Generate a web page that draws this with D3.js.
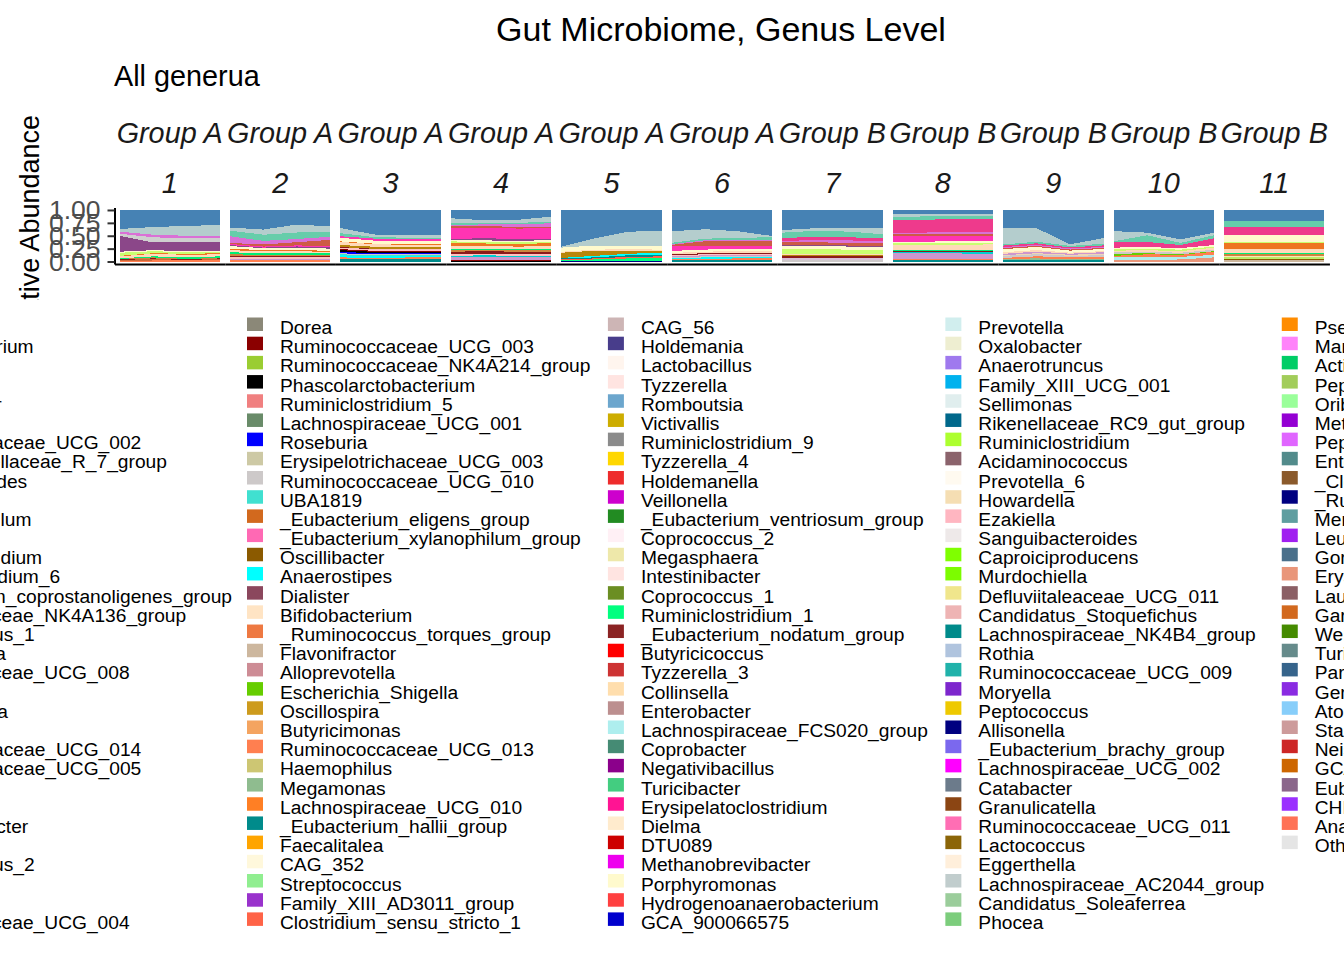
<!DOCTYPE html>
<html>
<head>
<meta charset="utf-8">
<script src="https://cdn.jsdelivr.net/npm/d3@7"></script>
<style>
  body { margin: 0; background: #fff; }
  svg { display: block; font-family: "Liberation Sans", Arial, sans-serif; }
</style>
</head>
<body>
<div id="chart"></div>
<script>
// genus levels, in legend order (first level is stacked on top)
const genera = [
  "Bacteroides", "Faecalibacterium", "Blautia", "Alistipes", "Agathobacter", "Sutterella",
  "Ruminococcaceae_UCG_002", "Christensenellaceae_R_7_group", "Parabacteroides", "Bilophila",
  "Subdoligranulum", "Akkermansia", "Lachnoclostridium", "Ruminiclostridium_6",
  "_Eubacterium_coprostanoligenes_group", "Lachnospiraceae_NK4A136_group", "Ruminococcus_1",
  "Parasutterella", "Lachnospiraceae_UCG_008", "Odoribacter", "Eisenbergiella", "Barnesiella",
  "Ruminococcaceae_UCG_014", "Ruminococcaceae_UCG_005", "Olsenella", "Tannerella",
  "Fusicatenibacter", "Mitsuokella", "Ruminococcus_2", "Monoglobus", "Slackia",
  "Lachnospiraceae_UCG_004",

  "Dorea", "Ruminococcaceae_UCG_003", "Ruminococcaceae_NK4A214_group", "Phascolarctobacterium",
  "Ruminiclostridium_5", "Lachnospiraceae_UCG_001", "Roseburia", "Erysipelotrichaceae_UCG_003",
  "Ruminococcaceae_UCG_010", "UBA1819", "_Eubacterium_eligens_group", "_Eubacterium_xylanophilum_group",
  "Oscillibacter", "Anaerostipes", "Dialister", "Bifidobacterium", "_Ruminococcus_torques_group",
  "Flavonifractor", "Alloprevotella", "Escherichia_Shigella", "Oscillospira", "Butyricimonas",
  "Ruminococcaceae_UCG_013", "Haemophilus", "Megamonas", "Lachnospiraceae_UCG_010",
  "_Eubacterium_hallii_group", "Faecalitalea", "CAG_352", "Streptococcus",
  "Family_XIII_AD3011_group", "Clostridium_sensu_stricto_1",

  "CAG_56", "Holdemania", "Lactobacillus", "Tyzzerella", "Romboutsia", "Victivallis",
  "Ruminiclostridium_9", "Tyzzerella_4", "Holdemanella", "Veillonella",
  "_Eubacterium_ventriosum_group", "Coprococcus_2", "Megasphaera", "Intestinibacter",
  "Coprococcus_1", "Ruminiclostridium_1", "_Eubacterium_nodatum_group", "Butyricicoccus",
  "Tyzzerella_3", "Collinsella", "Enterobacter", "Lachnospiraceae_FCS020_group", "Coprobacter",
  "Negativibacillus", "Turicibacter", "Erysipelatoclostridium", "Dielma", "DTU089",
  "Methanobrevibacter", "Porphyromonas", "Hydrogenoanaerobacterium", "GCA_900066575",

  "Prevotella", "Oxalobacter", "Anaerotruncus", "Family_XIII_UCG_001", "Sellimonas",
  "Rikenellaceae_RC9_gut_group", "Ruminiclostridium", "Acidaminococcus", "Prevotella_6",
  "Howardella", "Ezakiella", "Sanguibacteroides", "Caproiciproducens", "Murdochiella",
  "Defluviitaleaceae_UCG_011", "Candidatus_Stoquefichus", "Lachnospiraceae_NK4B4_group",
  "Rothia", "Ruminococcaceae_UCG_009", "Moryella", "Peptococcus", "Allisonella",
  "_Eubacterium_brachy_group", "Lachnospiraceae_UCG_002", "Catabacter", "Granulicatella",
  "Ruminococcaceae_UCG_011", "Lactococcus", "Eggerthella", "Lachnospiraceae_AC2044_group",
  "Candidatus_Soleaferrea", "Phocea",

  "Pseudobutyrivibrio", "Marvinbryantia", "Actinomyces", "Peptostreptococcus", "Oribacterium",
  "Methanosphaera", "Peptoniphilus", "Enterorhabdus", "_Clostridium_innocuum_group",
  "_Ruminococcus_gauvreauii_group", "Merdibacter", "Leuconostoc", "Gordonibacter",
  "Erysipelotrichaceae_UCG_004", "Lautropia", "Gardnerella", "Weissella", "Turicimonas",
  "Parvimonas", "Gemella", "Atopobium", "Staphylococcus", "Neisseria", "GCA_900066225",
  "Eubacterium", "CHKCI001", "Anaerofilum", "Others"
];

const generaColors = [
  "#4682B4", "#B4CDCD", "#66CDAA", "#EE3A8C", "#DA70D6", "#CD5B45", "#FF34B3", "#CFCFCF",
  "#8B4789", "#FFFACD", "#CAFF70", "#EE7621", "#FFDAB9", "#B8860B", "#00EE76", "#CD853F",
  "#8B1A1A", "#FFC1C1", "#00CED1", "#9370DB", "#FFE4B5", "#CD96CD", "#EEA9B8", "#BCEE68",
  "#D8BFD8", "#EED5B7", "#CD6839", "#00C5CD", "#FFEC8B", "#A2B5CD", "#CD3278", "#8DB6CD",

  "#8B8878", "#8B0000", "#9ACD32", "#000000", "#F08080", "#698B69", "#0000FF", "#CDC9A5",
  "#CDC9C9", "#40E0D0", "#D2691E", "#FF69B4", "#8B5A00", "#00FFFF", "#8B475D", "#FFE4C4",
  "#EE7942", "#CDB79E", "#CD8C95", "#66CD00", "#CD9B1D", "#F4A460", "#FF7F50", "#CDC673",
  "#8FBC8F", "#FF7F24", "#008B8B", "#FFA500", "#FFF8DC", "#90EE90", "#9932CC", "#FF6347",

  "#CDB5B5", "#483D8B", "#FFF5EE", "#FFE4E1", "#6CA6CD", "#CDAD00", "#8B8B8B", "#FFD700",
  "#EE2C2C", "#CD00CD", "#228B22", "#FFF0F5", "#EEE8AA", "#FFE4E1", "#6B8E23", "#00FF7F",
  "#8B2323", "#FF0000", "#CD3333", "#FFDEAD", "#BC8F8F", "#AEEEEE", "#458B74", "#8B008B",
  "#43CD80", "#FF1493", "#FFEBCD", "#CD0000", "#EE00EE", "#FFFACD", "#FF4040", "#0000CD",

  "#D1EEEE", "#EEEED1", "#9F79EE", "#00B2EE", "#E0EEEE", "#00688B", "#ADFF2F", "#8B636C",
  "#FFFAF0", "#F5DEB3", "#FFB6C1", "#EEE9E9", "#7FFF00", "#7CFC00", "#F0E68C", "#EEB4B4",
  "#008B8B", "#B0C4DE", "#20B2AA", "#7D26CD", "#EEC900", "#000080", "#7B68EE", "#FF00FF",
  "#6C7B8B", "#8B4513", "#FF6EB4", "#8B6508", "#FFEFDB", "#C1CDCD", "#9BCD9B", "#7CCD7C",

  "#FF8C00", "#FF83FA", "#00CD66", "#A2CD5A", "#9AFF9A", "#9400D3", "#E066FF", "#528B8B",
  "#8B5A2B", "#000080", "#5F9EA0", "#A020F0", "#4A708B", "#E9967A", "#8B5F65", "#D2691E",
  "#458B00", "#668B8B", "#36648B", "#8A2BE2", "#87CEFA", "#CD9B9B", "#CD2626", "#CD6600",
  "#8B668B", "#9B30FF", "#FF7256", "#E5E5E5"
];

const panelGroups = ["Group A", "Group A", "Group A", "Group A", "Group A", "Group A",
                     "Group B", "Group B", "Group B", "Group B", "Group B"];
const panelIds = ["1", "2", "3", "4", "5", "6", "7", "8", "9", "10", "11"];
const timepoints = [1, 2, 3, 4];
const yTicks = [0, 0.25, 0.5, 0.75, 1];
const yTickLabels = ["0.00", "0.25", "0.50", "0.75", "1.00"];

// relative abundance per panel: [genus, t1, t2, t3, t4]
const panel1 = [
  ["Bacteroides", .37, .33, .31, .29],
  ["Faecalibacterium", .05, .15, .19, .21],
  ["Agathobacter", .04, .05, .05, .05],
  ["Christensenellaceae_R_7_group", .04, .10, .07, .07],
  ["Parabacteroides", .31, .15, .18, .18],
  ["Bilophila", .02, .02, .02, .02],
  ["Subdoligranulum", .06, .04, .03, .02],
  ["Akkermansia", .01, .01, .02, .02],
  ["Lachnoclostridium", .04, .05, .05, .04],
  ["_Eubacterium_coprostanoligenes_group", .01, .02, .03, .03],
  ["Lachnospiraceae_NK4A136_group", .01, .02, .01, .01],
  ["Ruminococcus_1", .01, .01, .01, .01],
  ["Fusicatenibacter", .02, .03, .01, .02],
  ["Ruminococcaceae_UCG_013", .01, .02, .02, .03]
];
const panel2 = [
  ["Bacteroides", .34, .38, .27, .32],
  ["Faecalibacterium", .06, .10, .15, .10],
  ["Blautia", .11, .12, .12, .10],
  ["Agathobacter", .13, .07, .06, .06],
  ["Sutterella", .02, .04, .06, .12],
  ["Ruminococcaceae_UCG_002", .02, .02, .02, .02],
  ["Parabacteroides", .02, .01, .02, .03],
  ["Bilophila", .05, .04, .05, .04],
  ["Akkermansia", .03, .02, .02, .02],
  ["Lachnoclostridium", .04, .04, .04, .03],
  ["_Eubacterium_coprostanoligenes_group", .04, .03, .02, .03],
  ["Lachnospiraceae_NK4A136_group", .03, .03, .03, .03],
  ["Ruminococcus_1", .02, .02, .02, .02],
  ["Parasutterella", .04, .03, .03, .03],
  ["Barnesiella", .03, .03, .03, .03],
  ["Ruminococcaceae_UCG_013", .02, .02, .02, .02]
];
const panel3 = [
  ["Bacteroides", .35, .48, .50, .50],
  ["Faecalibacterium", .10, .05, .05, .05],
  ["Blautia", .06, .03, .03, .03],
  ["Ruminococcaceae_UCG_002", .03, .04, .04, .04],
  ["Bilophila", .07, .06, .06, .06],
  ["Lachnoclostridium", .06, .05, .05, .05],
  ["Ruminiclostridium_6", .04, .04, .03, .03],
  ["Ruminococcus_1", .01, .01, .01, .01],
  ["Parasutterella", .03, .03, .03, .03],
  ["Ruminococcaceae_UCG_003", .02, .02, .02, .02],
  ["Phascolarctobacterium", .03, .03, .03, .03],
  ["Roseburia", .03, .02, .01, .01],
  ["Ruminococcaceae_UCG_010", .02, .02, .02, .02],
  ["UBA1819", .02, .02, .02, .02],
  ["Anaerostipes", .04, .03, .03, .03],
  ["Ruminococcaceae_UCG_013", .03, .03, .03, .03],
  ["_Eubacterium_hallii_group", .05, .04, .05, .05],
  ["Akkermansia", .01, .01, .01, .01]
];
const panel4 = [
  ["Bacteroides", .16, .20, .19, .13],
  ["Faecalibacterium", .10, .05, .06, .10],
  ["Blautia", .03, .03, .03, .03],
  ["Agathobacter", .02, .03, .05, .07],
  ["Sutterella", .03, .04, .03, .03],
  ["Ruminococcaceae_UCG_002", .22, .20, .20, .20],
  ["Parabacteroides", .02, .04, .04, .03],
  ["Bilophila", .03, .03, .03, .03],
  ["Subdoligranulum", .03, .03, .03, .03],
  ["Akkermansia", .06, .05, .05, .06],
  ["Lachnoclostridium", .06, .05, .05, .06],
  ["_Eubacterium_coprostanoligenes_group", .02, .02, .02, .02],
  ["Lachnospiraceae_NK4A136_group", .03, .03, .03, .03],
  ["Ruminococcus_1", .05, .05, .05, .05],
  ["Parasutterella", .03, .03, .03, .03],
  ["Lachnospiraceae_UCG_008", .03, .03, .03, .03],
  ["Barnesiella", .05, .06, .05, .05],
  ["Ruminococcaceae_UCG_003", .02, .02, .02, .02],
  ["Phascolarctobacterium", .01, .01, .01, .01]
];
const panel5 = [
  ["Bacteroides", .71, .55, .42, .41],
  ["Faecalibacterium", .02, .14, .27, .29],
  ["Bilophila", .08, .08, .07, .07],
  ["Lachnoclostridium", .02, .02, .03, .03],
  ["Ruminiclostridium_6", .10, .10, .06, .03],
  ["Anaerostipes", .01, .03, .03, .04],
  ["_Eubacterium_hallii_group", .02, .02, .03, .03],
  ["Clostridium_sensu_stricto_1", .02, .02, .03, .03],
  ["Ruminiclostridium_1", .01, .03, .05, .06],
  ["Allisonella", .01, .01, .01, .01]
];
const panel6 = [
  ["Bacteroides", .42, .37, .41, .50],
  ["Faecalibacterium", .23, .18, .13, .02],
  ["Blautia", .03, .03, .03, .05],
  ["Agathobacter", .01, .02, .02, .02],
  ["Sutterella", .02, .10, .10, .10],
  ["Ruminococcaceae_UCG_002", .10, .06, .06, .06],
  ["Bilophila", .04, .04, .04, .04],
  ["Lachnoclostridium", .03, .03, .03, .03],
  ["Ruminococcus_1", .02, .02, .02, .02],
  ["Parasutterella", .02, .02, .03, .03],
  ["Barnesiella", .02, .02, .02, .02],
  ["Ruminococcaceae_UCG_010", .02, .02, .02, .02],
  ["Anaerostipes", .01, .03, .02, .01],
  ["Ruminococcaceae_UCG_013", .02, .02, .03, .04],
  ["_Eubacterium_hallii_group", .03, .03, .03, .03]
];
const panel7 = [
  ["Bacteroides", .39, .35, .34, .34],
  ["Faecalibacterium", .05, .05, .08, .13],
  ["Blautia", .11, .11, .11, .08],
  ["Alistipes", .06, .06, .06, .06],
  ["Agathobacter", .02, .05, .05, .03],
  ["Sutterella", .05, .05, .05, .05],
  ["Parabacteroides", .02, .02, .02, .02],
  ["Bilophila", .06, .06, .06, .06],
  ["Subdoligranulum", .09, .09, .08, .08],
  ["Lachnoclostridium", .03, .03, .03, .03],
  ["Ruminiclostridium_6", .02, .02, .02, .02],
  ["Ruminococcus_1", .03, .03, .03, .03],
  ["Lachnospiraceae_UCG_008", .01, .01, .01, .01],
  ["Olsenella", .03, .03, .03, .03],
  ["Ruminococcaceae_UCG_010", .03, .03, .03, .03]
];
const panel8 = [
  ["Bacteroides", .08, .07, .07, .07],
  ["Faecalibacterium", .05, .05, .05, .05],
  ["Blautia", .05, .06, .05, .05],
  ["Alistipes", .24, .24, .24, .24],
  ["Agathobacter", .02, .03, .04, .03],
  ["Sutterella", .05, .04, .03, .04],
  ["Ruminococcaceae_UCG_002", .10, .10, .10, .10],
  ["Bilophila", .03, .03, .04, .03],
  ["Subdoligranulum", .03, .03, .03, .03],
  ["Lachnoclostridium", .10, .10, .10, .10],
  ["_Eubacterium_coprostanoligenes_group", .02, .02, .02, .02],
  ["Ruminococcus_1", .02, .02, .02, .02],
  ["Lachnospiraceae_UCG_008", .02, .02, .02, .04],
  ["Barnesiella", .10, .10, .10, .10],
  ["Ruminococcaceae_UCG_013", .03, .03, .03, .02],
  ["_Eubacterium_hallii_group", .02, .02, .02, .02]
];
const panel9 = [
  ["Bacteroides", .35, .35, .66, .54],
  ["Faecalibacterium", .32, .26, .03, .11],
  ["Blautia", .02, .03, .03, .03],
  ["Alistipes", .03, .03, .02, .03],
  ["Agathobacter", .02, .02, .02, .02],
  ["Sutterella", .02, .02, .02, .02],
  ["Bilophila", .06, .06, .04, .04],
  ["Lachnoclostridium", .03, .03, .02, .02],
  ["Barnesiella", .03, .03, .02, .03],
  ["Tannerella", .01, .02, .02, .03],
  ["Ruminococcaceae_UCG_010", .04, .04, .03, .03],
  ["Ruminococcaceae_UCG_013", .02, .04, .04, .05],
  ["Megamonas", .03, .03, .02, .02],
  ["_Eubacterium_hallii_group", .02, .03, .02, .02]
];
const panel10 = [
  ["Bacteroides", .41, .44, .57, .44],
  ["Faecalibacterium", .20, .05, .07, .05],
  ["Blautia", .02, .13, .04, .06],
  ["Alistipes", .10, .10, .06, .13],
  ["Bilophila", .03, .03, .03, .03],
  ["Subdoligranulum", .03, .03, .03, .02],
  ["Lachnoclostridium", .03, .03, .03, .04],
  ["Ruminococcaceae_UCG_010", .03, .03, .03, .03],
  ["Escherichia_Shigella", .04, .02, .01, .01],
  ["Ruminococcaceae_UCG_013", .03, .05, .04, .06],
  ["Lachnospiraceae_FCS020_group", .06, .06, .05, .05],
  ["Erysipelotrichaceae_UCG_004", .02, .03, .04, .08]
];
const panel11 = [
  ["Bacteroides", .21, .21, .21, .21],
  ["Blautia", .12, .12, .12, .12],
  ["Alistipes", .16, .16, .16, .16],
  ["Bilophila", .13, .13, .13, .13],
  ["Akkermansia", .10, .10, .10, .10],
  ["Lachnoclostridium", .08, .08, .08, .08],
  ["_Eubacterium_coprostanoligenes_group", .03, .03, .03, .03],
  ["Eisenbergiella", .03, .03, .03, .03],
  ["Subdoligranulum", .03, .03, .03, .03],
  ["Lachnospiraceae_NK4A136_group", .03, .03, .03, .03],
  ["Ruminococcaceae_UCG_005", .03, .03, .03, .03],
  ["Oscillibacter", .02, .02, .02, .02],
  ["Flavonifractor", .03, .03, .03, .03]
];
const panels = [panel1, panel2, panel3, panel4, panel5, panel6, panel7, panel8, panel9, panel10, panel11];

const width = 1344, height = 960;
const svg = d3.select("#chart").append("svg")
    .attr("width", width)
    .attr("height", height);

const color = d3.scaleOrdinal().domain(genera).range(generaColors);

// facet layout (panels touch, 5% expansion inside each)
const panelX0 = 114.5, panelW = 110.45;
const y = d3.scaleLinear().domain([-0.05, 1.05]).range([264.1, 207.4]);

// y title first, the legend background covers its lower end
svg.append("text")
   .attr("transform", "translate(39,115) rotate(-90)")
   .attr("text-anchor", "end")
   .attr("font-size", 27)
   .attr("fill", "#000")
   .text("Relative Abundance");

panels.forEach(function(rows, i) {
    const left = panelX0 + i * panelW;
    const x = d3.scaleLinear().domain([0.85, 4.15]).range([left, left + panelW]);

    const present = new Set(rows.map(r => r[0]));
    const keys = genera.filter(g => present.has(g)).reverse();
    const table = timepoints.map(function(t, j) {
        const row = {t: t};
        rows.forEach(r => { row[r[0]] = r[j + 1]; });
        return row;
    });
    const series = d3.stack().keys(keys).offset(d3.stackOffsetExpand)(table);

    const area = d3.area()
        .x(d => x(d.data.t))
        .y0(d => y(d[0]))
        .y1(d => y(d[1]));

    svg.append("g")
       .selectAll("path")
       .data(series)
       .join("path")
       .attr("fill", d => color(d.key))
       .attr("shape-rendering", "crispEdges")
       .attr("d", area);

    // bottom axis line only
    const xAxis = svg.append("g")
       .attr("transform", "translate(0," + y(-0.05) + ")")
       .call(d3.axisBottom(x).tickValues([]).tickSizeOuter(0));
    xAxis.select(".domain").attr("stroke", "#000").attr("stroke-width", 2);

    // two strip rows
    svg.append("text")
       .attr("x", left + panelW / 2)
       .attr("y", 143)
       .attr("text-anchor", "middle")
       .attr("font-size", 28.8)
       .attr("font-style", "italic")
       .attr("fill", "#1A1A1A")
       .text(panelGroups[i]);
    svg.append("text")
       .attr("x", left + panelW / 2)
       .attr("y", 193)
       .attr("text-anchor", "middle")
       .attr("font-size", 28.8)
       .attr("font-style", "italic")
       .attr("fill", "#1A1A1A")
       .text(panelIds[i]);
});

// y axis on the first panel
const yAxis = svg.append("g")
   .attr("transform", "translate(" + panelX0 + ",0)")
   .call(d3.axisLeft(y).tickValues(yTicks).tickFormat((d, i) => yTickLabels[i])
           .tickSize(7).tickPadding(7).tickSizeOuter(0));
yAxis.select(".domain").attr("stroke", "#000").attr("stroke-width", 2);
yAxis.selectAll(".tick line").attr("stroke", "#333").attr("stroke-width", 2);
yAxis.selectAll(".tick text")
     .attr("font-size", 26.5)
     .attr("font-family", "'Liberation Sans', Arial, sans-serif")
     .attr("fill", "#4D4D4D");

// titles
svg.append("text")
   .attr("x", 721)
   .attr("y", 41)
   .attr("text-anchor", "middle")
   .attr("font-size", 34)
   .text("Gut Microbiome, Genus Level");
svg.append("text")
   .attr("x", 114)
   .attr("y", 86)
   .attr("font-size", 28.8)
   .text("All generua");

// legend: columns of 32, wider than the page so both ends are cut
svg.append("rect")
   .attr("x", 0).attr("y", 300)
   .attr("width", width).attr("height", height - 300)
   .attr("fill", "#fff");

const nRows = 32, rowH = 19.19;
const columns = d3.range(Math.ceil(genera.length / nRows))
                  .map(c => genera.slice(c * nRows, (c + 1) * nRows));
const colGroups = columns.map(function(names) {
    const g = svg.append("g");
    names.forEach(function(name, r) {
        g.append("rect")
         .attr("x", 0)
         .attr("y", 317.5 + r * rowH)
         .attr("width", 16)
         .attr("height", 13.5)
         .attr("fill", color(name));
        g.append("text")
         .attr("x", 33)
         .attr("y", 334 + r * rowH)
         .attr("font-size", 19.2)
         .text(name);
    });
    return g;
});
const colWidths = colGroups.map(g => d3.max(g.selectAll("text").nodes(), n => n.getComputedTextLength()));
const colX = [];
colX[1] = 247;
colX[0] = colX[1] - 15 - 33 - colWidths[0];
for (let c = 2; c < colGroups.length; c++) {
    colX[c] = colX[c - 1] + 33 + colWidths[c - 1] + 17.5;
}
colGroups.forEach((g, c) => g.attr("transform", "translate(" + colX[c] + ",0)"));
</script>
</body>
</html>
